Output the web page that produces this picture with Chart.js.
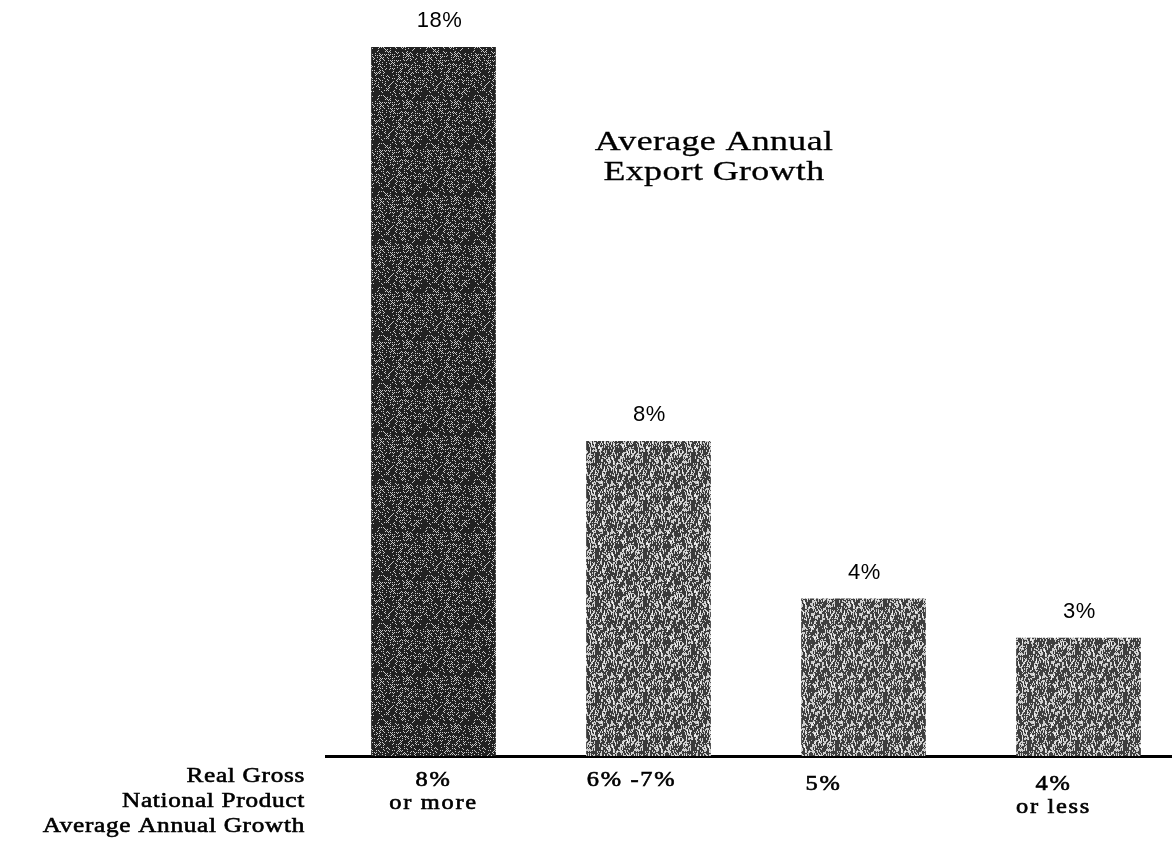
<!DOCTYPE html>
<html>
<head>
<meta charset="utf-8">
<script src="https://cdn.jsdelivr.net/npm/chart.js@4"></script>
<style>
  html, body { margin: 0; padding: 0; background: #fff; overflow: hidden; }
  #wrap { width: 1172px; height: 842px; overflow: hidden; }
</style>
</head>
<body>
<div id="wrap"><canvas id="grafico" width="1186" height="842"></canvas></div>
<script>
// dados
const categorias = [["8%", "or more"], ["6% -7%"], ["5%"], ["4%", "or less"]];
const exportacao = [18, 8, 4, 3];
const rotulosValor = ["18%", "8%", "4%", "3%"];
const tituloLinhas = ["Average Annual", "Export Growth"];
const eixoLinhas = ["Real Gross", "National Product", "Average Annual Growth"];

const serifa = "'Liberation Serif', 'Times New Roman', serif";

// textura pontilhada parecida com a impressao (sem aleatorio, so hash)
function textura(base, freq) {
  const c = document.createElement("canvas");
  c.width = 48; c.height = 48;
  const g = c.getContext("2d");
  g.fillStyle = base;
  g.fillRect(0, 0, 48, 48);
  g.fillStyle = "rgba(255,255,255,0.75)";
  for (let y = 0; y < 48; y++) {
    for (let x = 0; x < 48; x++) {
      const h = ((x * 73856093) ^ (y * 19349663)) >>> 0;
      if (h % freq === 0) g.fillRect(x, y, 1, (h % 3) + 1);
    }
  }
  return g.createPattern(c, "repeat");
}

// texto esticado na horizontal (a fonte original e mais larga)
function texto(ctx, str, x, y, esticar) {
  ctx.save();
  ctx.translate(x, y);
  ctx.scale(esticar, 1);
  ctx.fillText(str, 0, 0);
  ctx.strokeText(str, 0, 0);
  ctx.restore();
}

const pluginTextos = {
  id: "textos",
  afterDatasetsDraw(chart) {
    const ctx = chart.ctx;
    const area = chart.chartArea;
    const eixoX = chart.scales.x;
    const barras = chart.getDatasetMeta(0).data;
    ctx.save();
    ctx.fillStyle = "#000";
    ctx.strokeStyle = "#000";
    ctx.lineWidth = 0.6;
    ctx.textBaseline = "middle";

    // valores acima das barras
    ctx.textAlign = "center";
    ctx.letterSpacing = "0.5px";
    ctx.font = "22px 'Liberation Sans', Arial, sans-serif";
    barras.forEach((b, i) => {
      ctx.fillText(rotulosValor[i], b.x + (i === 0 ? 6 : 1), b.y - 26);
    });

    // titulo dentro da area
    ctx.letterSpacing = "0.3px";
    ctx.lineWidth = 0.3;
    ctx.font = "28px " + serifa;
    tituloLinhas.forEach((t, i) => {
      texto(ctx, t, 714, 143 + i * 30, 1.28);
    });
    ctx.lineWidth = 0.6;

    // rotulos das categorias (no original ficam um pouco a esquerda)
    const desvio = [0, -17, -40, -25];
    ctx.letterSpacing = "1.4px";
    ctx.font = "20px " + serifa;
    categorias.forEach((linhas, i) => {
      const x = eixoX.getPixelForTick(i) + desvio[i];
      linhas.forEach((t, j) => {
        texto(ctx, t, x, 781 + j * 23 + (i > 1 ? 4 : 0), 1.22);
      });
    });

    // legenda do eixo x a esquerda
    ctx.textAlign = "right";
    ctx.letterSpacing = "0.6px";
    ctx.font = "21px " + serifa;
    eixoLinhas.forEach((t, i) => {
      texto(ctx, t, area.left - 21, 776 + i * 25, 1.2);
    });
    ctx.restore();
  }
};

new Chart(document.getElementById("grafico"), {
  type: "bar",
  data: {
    labels: categorias,
    datasets: [{
      data: exportacao,
      backgroundColor: [textura("#222222", 6), textura("#3a3a3a", 5), textura("#3e3e3e", 5), textura("#3e3e3e", 5)],
      borderWidth: 0,
      barPercentage: 0.58,
      categoryPercentage: 1
    }]
  },
  options: {
    responsive: false,
    animation: false,
    layout: { padding: { left: 326, right: 0, top: 47, bottom: 86 } },
    plugins: { legend: { display: false }, tooltip: { enabled: false } },
    scales: {
      y: { display: false, min: 0, max: 18 },
      x: {
        grid: { display: false, drawTicks: false },
        border: { color: "#000", width: 3 },
        ticks: { display: false }
      }
    }
  },
  plugins: [pluginTextos]
});
</script>
</body>
</html>
